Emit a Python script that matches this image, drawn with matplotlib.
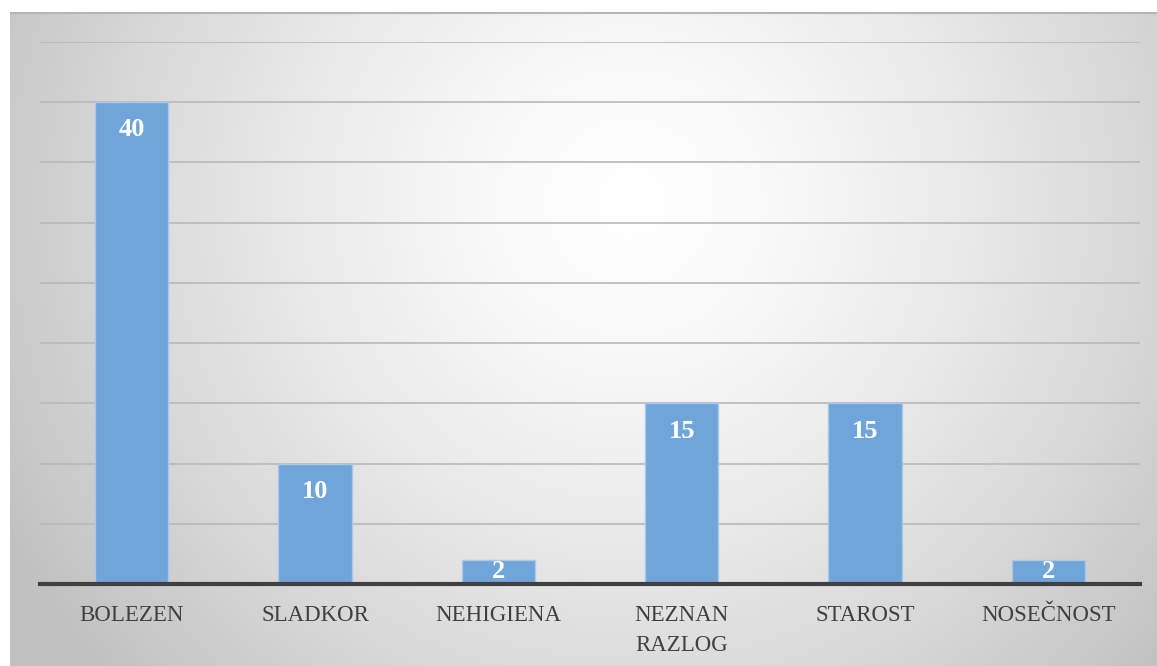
import numpy as np
import matplotlib.pyplot as plt

categories = ['BOLEZEN', 'SLADKOR', 'NEHIGIENA', 'NEZNAN\nRAZLOG', 'STAROST', 'NOSEČNOST']
values = [40, 10, 2, 15, 15, 2]

W, H = 1157, 666
fig = plt.figure(figsize=(W / 100, H / 100), dpi=100)
fig.patch.set_facecolor('white')

# panel with radial gradient
px0, py0 = 10, 12
bg = fig.add_axes([px0 / W, 0, 1 - px0 / W, 1 - py0 / H])
bw, bh = W - px0, H - py0
xx, yy = np.meshgrid(np.arange(bw), np.arange(bh))
cx, cy = 620, 190
r = np.sqrt((xx - cx) ** 2 + (yy - cy) ** 2) / 700
r = np.clip(r, 0, 1)
grey = 1.0 - 0.24 * r ** 1.4
img = np.dstack([grey, grey, grey])
bg.imshow(img, aspect='auto', extent=[0, bw, bh, 0])
bg.set_xlim(0, bw)
bg.set_ylim(bh, 0)
bg.axis('off')
bg.axhline(0.5, color='#b5b5b5', lw=1.5)

ax = fig.add_axes([40 / W, (H - 584) / H, 1100 / W, (584 - 42) / H])
ax.patch.set_alpha(0)
x = np.arange(len(categories))
bars = ax.bar(x, values, width=0.4, color='#6fa5d8', edgecolor='#a9c9ea', linewidth=1, zorder=3)
ax.set_xlim(-0.5, len(categories) - 0.5)
ax.set_ylim(0, 45)
ax.set_yticks(np.arange(0, 46, 5))
ax.yaxis.grid(True, color='#b8b8b8', lw=1.2, zorder=0)
ax.tick_params(axis='y', length=0, labelleft=False)
ax.tick_params(axis='x', length=0, pad=15)
ax.set_xticks(x)
ax.set_xticklabels(categories, fontsize=16.5, color='#404040', family='Liberation Serif',
                   linespacing=1.55, va='top')
for s in ['top', 'right', 'left']:
    ax.spines[s].set_visible(False)
ax.spines['bottom'].set_color('#404040')
ax.spines['bottom'].set_linewidth(3)
ax.spines['bottom'].set_zorder(4)

for xi, v in zip(x, values):
    y = v - 2.3 if v > 5 else v / 2
    ax.text(xi, y, str(v), ha='center', va='center', color='white',
            fontsize=19, fontweight='bold', family='Liberation Serif', zorder=5)

fig.savefig('out.png', dpi=100)
